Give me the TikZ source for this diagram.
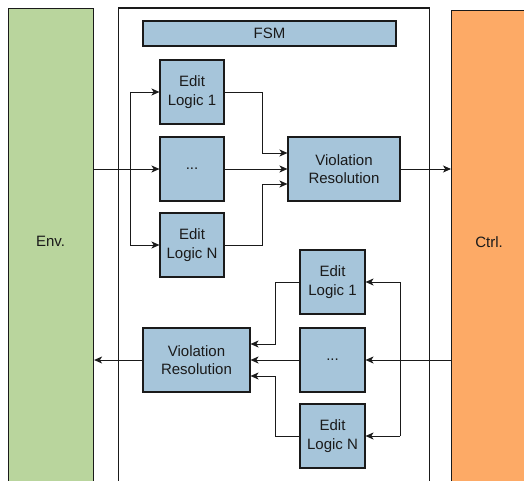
\documentclass[tikz,border=0pt]{standalone}
\usepackage{fontspec}
\setmainfont{Liberation Sans}
\usetikzlibrary{arrows.meta}
\definecolor{envgreen}{HTML}{B9D59D}
\definecolor{ctrlorange}{HTML}{FDAA66}
\definecolor{blockblue}{HTML}{A6C5DA}
\definecolor{ink}{HTML}{1A1A1A}
\tikzset{
  block/.style={draw=ink, line width=1.1pt, fill=blockblue, inner sep=0pt,
    align=center, text=ink, font=\fontsize{15}{18.7}\selectfont},
  editbox/.style={block, minimum width=64pt, minimum height=64pt},
  resbox/.style={block, minimum height=64pt},
  wire/.style={draw=ink, line width=0.9pt},
  arr/.style={wire, -{Stealth[length=8pt,width=7pt,inset=2.2pt]}},
}
\begin{document}
\begin{tikzpicture}[x=1pt, y=-1pt]
  \useasboundingbox (0,0) rectangle (524,481);
  \clip (0,0) rectangle (524,481);

  % side blocks and the FSM frame (they run past the lower edge)
  \node[draw=ink, line width=1.1pt, fill=envgreen, minimum width=85pt, minimum height=490pt,
        inner sep=0pt, anchor=north west] (env) at (8,8) {};
  \node[text=ink, font=\fontsize{15}{18}\selectfont] (envlabel) at (50.5,241) {Env.};
  \node[draw=ink, line width=1.1pt, fill=ctrlorange, minimum width=90pt, minimum height=490pt,
        inner sep=0pt, anchor=north west] (ctrl) at (451,10) {};
  \node[text=ink, font=\fontsize{15}{18}\selectfont] (ctrllabel) at (489,242) {Ctrl.};
  \node[draw=ink, line width=1.1pt, minimum width=311pt, minimum height=490pt,
        inner sep=0pt, anchor=north west] (fsm) at (117.5,7.5) {};

  \node[block, minimum width=253pt, minimum height=25pt] (title) at (269.5,33.5) {FSM};

  % Env -> Ctrl path
  \node[editbox] (ea1) at (192,92)  {Edit\\Logic 1};
  \node[editbox] (ea2) at (192,169) {...};
  \node[editbox] (ea3) at (192,245) {Edit\\Logic N};
  \node[resbox, minimum width=112pt] (vra) at (344,169) {Violation\\Resolution};

  \coordinate (splitA) at (130,169);
  \coordinate (mergeA1) at (262,153);
  \coordinate (mergeA3) at (262,184);

  \draw[arr] (env.east |- ea2) -- (ea2);
  \draw[wire] (splitA |- ea1) -- (splitA |- ea3);
  \draw[arr] (splitA |- ea1) -- (ea1);
  \draw[arr] (splitA |- ea3) -- (ea3);
  \draw[arr] (ea1) -| (mergeA1) -- (vra.west |- mergeA1);
  \draw[arr] (ea2) -- (vra);
  \draw[arr] (ea3) -| (mergeA3) -- (vra.west |- mergeA3);
  \draw[arr] (vra) -- (ctrl.west |- vra);

  % Ctrl -> Env path
  \node[editbox, minimum width=65pt] (eb1) at (332.5,282) {Edit\\Logic 1};
  \node[editbox, minimum width=65pt] (eb2) at (332.5,360) {...};
  \node[editbox, minimum width=65pt] (eb3) at (332.5,436) {Edit\\Logic N};
  \node[resbox, minimum width=107pt] (vrb) at (196.5,360) {Violation\\Resolution};

  \coordinate (splitB) at (400,360);
  \coordinate (mergeB1) at (275,344);
  \coordinate (mergeB3) at (275,376);

  \draw[arr] (ctrl.west |- eb2) -- (eb2);
  \draw[wire] (splitB |- eb1) -- (splitB |- eb3);
  \draw[arr] (splitB |- eb1) -- (eb1);
  \draw[arr] (splitB |- eb3) -- (eb3);
  \draw[arr] (eb1) -| (mergeB1) -- (vrb.east |- mergeB1);
  \draw[arr] (eb2) -- (vrb);
  \draw[arr] (eb3) -| (mergeB3) -- (vrb.east |- mergeB3);
  \draw[arr] (vrb) -- (env.east |- vrb);
\end{tikzpicture}
\end{document}
